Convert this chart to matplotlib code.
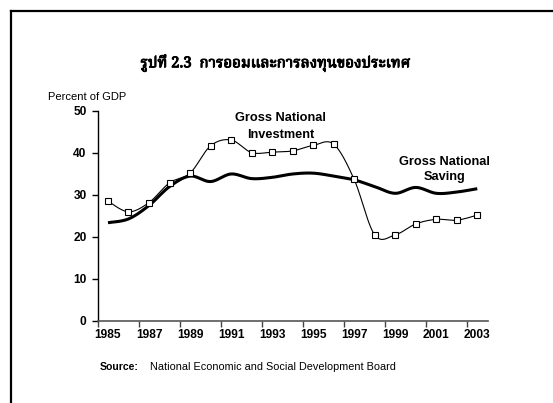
import numpy as np
import matplotlib
matplotlib.use("Agg")
import matplotlib.pyplot as plt
import matplotlib.patheffects as pe
from matplotlib.lines import Line2D

years = list(range(1985, 2004))
investment = [28.5, 26.0, 28.2, 32.9, 35.2, 41.7, 43.1, 40.1, 40.2, 40.5,
              41.8, 42.1, 33.7, 20.5, 20.5, 23.1, 24.2, 24.0, 25.2]
saving = [23.4, 24.3, 27.5, 32.0, 34.5, 33.2, 35.0, 33.9, 34.2, 35.0,
          35.2, 34.5, 33.6, 32.0, 30.4, 31.8, 30.4, 30.7, 31.5]

title = "รูปที่ 2.3  การออมและการลงทุนของประเทศ"
ylabel = "Percent of GDP"
source_head = "Source:"
source_text = "National Economic and Social Development Board"

sans = "Liberation Sans"
thai = ["Noto Serif Thai", "Taviraj", "Trirong", "Sarabun", "Anuphan", "DejaVu Serif"]


def smooth(xs, ys, n=24):
    # bezier segments with catmull-rom style control points
    p = np.column_stack([xs, ys]).astype(float)
    p = np.vstack([p[0], p, p[-1]])
    out = []
    t = np.linspace(0, 1, n)[:, None]
    for i in range(1, len(p) - 2):
        p0, p1, p2, p3 = p[i - 1], p[i], p[i + 1], p[i + 2]
        c1 = p1 + (p2 - p0) / 6
        c2 = p2 - (p3 - p1) / 6
        seg = ((1 - t) ** 3) * p1 + 3 * ((1 - t) ** 2) * t * c1 + 3 * (1 - t) * t ** 2 * c2 + t ** 3 * p2
        out.append(seg if i == 1 else seg[1:])
    out = np.vstack(out)
    return out[:, 0], out[:, 1]


fig = plt.figure(figsize=(5.53, 4.03), dpi=100)
ax = fig.add_axes([0.1767, 0.2035, 0.7049, 0.5211])

x = np.arange(len(years))
sx, sy = smooth(x, saving)
ax.plot(sx, sy, color="black", lw=2.2, solid_capstyle="butt")
ix, iy = smooth(x, investment)
ax.plot(ix, iy, color="black", lw=0.8)
ax.plot(x, investment, ls="none", marker="s", ms=4.2, mfc="white", mec="black", mew=0.8)

ax.set_xlim(-0.5, len(years) - 0.5)
ax.set_ylim(0, 50)
ax.set_yticks(range(0, 51, 10))
ax.set_xticks(np.arange(-0.5, len(years) - 1, 2))
ax.set_xticks(x[::2], minor=True)
ax.set_xticklabels([])
ax.set_xticklabels([str(y) for y in years[::2]], minor=True)
ax.tick_params(axis="x", which="minor", length=0, pad=6, labelsize=8.6)
ax.tick_params(axis="x", which="major", length=4, width=1, color="#444444", direction="out")
ax.tick_params(axis="y", length=4, width=1, direction="out", labelsize=8.6, pad=4)
for lab in ax.get_xticklabels(minor=True) + ax.get_yticklabels():
    lab.set_fontweight("bold")
    lab.set_family(sans)
for s in ["top", "right"]:
    ax.spines[s].set_visible(False)
ax.spines["left"].set_linewidth(1)
ax.spines["bottom"].set_linewidth(1.2)
ax.spines["bottom"].set_color("#555555")

# labels for the two series
lbl = dict(ha="center", va="center", fontsize=9.2, fontweight="bold", family=sans)
ax.text(8.4, 48.3, "Gross National", **lbl)
ax.text(8.4, 44.3, "Investment", **lbl)
ax.text(16.4, 37.8, "Gross National", **lbl)
ax.text(16.4, 34.2, "Saving", **lbl)

fig.text(275 / 553, 1 - 63 / 403, title, ha="center", va="center", fontsize=10.8,
         fontweight="bold", family=thai,
         path_effects=[pe.withStroke(linewidth=0.7, foreground="black")])
fig.text(48 / 553, 1 - 97 / 403, ylabel, ha="left", va="center", fontsize=8.0, family=sans)
fig.text(100 / 553, 1 - 367 / 403, source_head, ha="left", va="center", fontsize=7.6,
         fontweight="bold", family=sans)
fig.text(150 / 553, 1 - 367 / 403, source_text, ha="left", va="center", fontsize=7.8,
         family=sans)

# page frame, open to the right and bottom
fig.add_artist(Line2D([11 / 553, 1.0], [1 - 11 / 403] * 2, transform=fig.transFigure, color="black", lw=1.6))
fig.add_artist(Line2D([11 / 553] * 2, [0.0, 1 - 11 / 403], transform=fig.transFigure, color="black", lw=1.6))

fig.savefig("out.png", dpi=100)
